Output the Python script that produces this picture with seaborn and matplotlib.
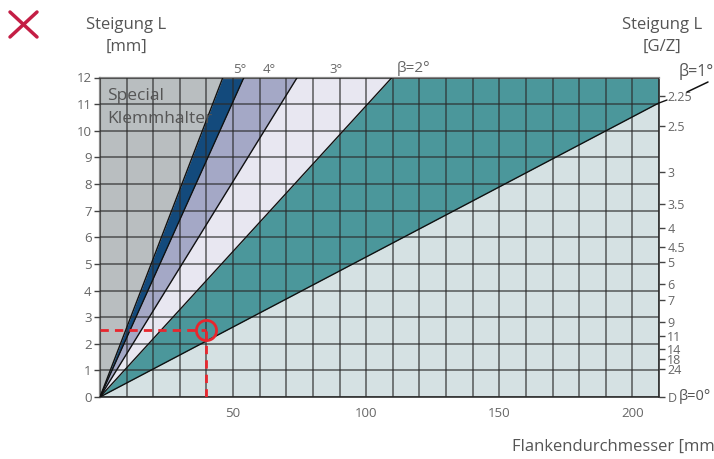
import numpy as np
import pandas as pd
import matplotlib
matplotlib.use('Agg')
import matplotlib.pyplot as plt
from matplotlib.lines import Line2D
import seaborn as sns

# slopes L/d of the boundary lines, steepest first
slopes = [0.26, 0.222, 0.162, 0.1094, 0.0526]
band_colors = ['#134a7c', '#a4a8c6', '#e8e7f1', '#4b979b']
gray_color = '#b9bec0'
below_color = '#d5e1e3'

angle_labels = ['5°', '4°', '3°', 'β=2°']
angle_label_x = [52.5, 63.7, 88.7, 111.5]

# right axis: threads per inch
tpi = [2.25, 2.5, 3, 3.5, 4, 4.5, 5, 6, 7, 9, 11, 14, 18, 24]
tpi_labels = ['2.25', '2.5', '3', '3.5', '4', '4.5', '5', '6', '7', '9', '11', '14', '18', '24']

# example reading
ex_d = 40
ex_L = 2.5

sns.set_style('white')
plt.rcParams['font.family'] = ['Open Sans', 'DejaVu Sans']
txt = '#666666'

fig = plt.figure(figsize=(7.14, 4.59), dpi=100)
W, H = 714, 459
ax = fig.add_axes([100 / W, (H - 397) / H, 559 / W, 319.5 / H])

xmax = 210
d = np.linspace(0, xmax, 800)

# gray "special" region above steepest line
ax.fill_between(d, np.minimum(slopes[0] * d, 12), 12, color=gray_color, lw=0, zorder=0.5)
for s_hi, s_lo, c in zip(slopes[:-1], slopes[1:], band_colors):
    ax.fill_between(d, np.minimum(s_lo * d, 12), np.minimum(s_hi * d, 12), color=c, lw=0, zorder=0.5)
ax.fill_between(d, 0, np.minimum(slopes[-1] * d, 12), color=below_color, lw=0, zorder=0.5)

for s in slopes:
    df = pd.DataFrame({'d': d, 'L': s * d})
    sns.lineplot(data=df, x='d', y='L', ax=ax, color='#111111', lw=1.0, zorder=3)

ax.set_xlim(0, xmax)
ax.set_ylim(0, 12)
ax.set_xticks([50, 100, 150, 200])
ax.set_xticks(np.arange(0, xmax + 1, 10), minor=True)
ax.set_yticks(range(0, 13))
ax.grid(True, which='both', color='#2a2a2a', lw=1.1, alpha=0.75, zorder=2)
ax.set_axisbelow(False)
ax.tick_params(axis='x', which='major', length=5, width=1, color='#444', labelcolor=txt, labelsize=9.5, pad=2)
ax.tick_params(axis='x', which='minor', length=0)
ax.tick_params(axis='y', length=4, width=1, color='#444', labelcolor=txt, labelsize=9.5, pad=2)
ax.set_xlabel('')
ax.set_ylabel('')
for side in ['left', 'top']:
    ax.spines[side].set_color('#888888')
    ax.spines[side].set_linewidth(1.6)
for side in ['right', 'bottom']:
    ax.spines[side].set_color('#333333')
    ax.spines[side].set_linewidth(1.2)

# right axis in threads per inch
ax2 = ax.twinx()
ax2.set_ylim(0, 12)
ax2.set_yticks([0] + [25.4 / t for t in tpi])
ax2.set_yticklabels(['D'] + tpi_labels)
ax2.tick_params(axis='y', length=4, width=1, color='#444', labelcolor=txt, labelsize=9, pad=2)
for sp in ax2.spines.values():
    sp.set_visible(False)
ax2.grid(False)

# red example reading
ax.plot([0, ex_d], [ex_L, ex_L], color='#e8262e', lw=2, ls=(0, (3, 2.2)), zorder=5)
ax.plot([ex_d, ex_d], [0, ex_L], color='#e8262e', lw=2, ls=(0, (3, 2.2)), zorder=5)
ax.plot([ex_d], [ex_L], marker='o', ms=14.5, mfc='none', mec='#e8262e', mew=2, zorder=6)

# angle labels above the plot
for lab, x in zip(angle_labels, angle_label_x):
    ax.text(x, 12.05, lab, ha='left' if lab.startswith('β') else 'center', va='bottom',
            color=txt, fontsize=11 if lab.startswith('β') else 9.5, clip_on=False)

ax.text(2.6, 11.3, 'Special', color='#555', fontsize=12.5, va='center', ha='left')
ax.text(2.6, 10.45, 'Klemmhalter', color='#555', fontsize=12.5, va='center', ha='left')

# figure-level texts
fig.text(126 / W, 1 - 25 / H, 'Steigung L', ha='center', va='center', color='#555', fontsize=12)
fig.text(126 / W, 1 - 47 / H, '[mm]', ha='center', va='center', color='#555', fontsize=12)
fig.text(662 / W, 1 - 25 / H, 'Steigung L', ha='center', va='center', color='#555', fontsize=12)
fig.text(662 / W, 1 - 47 / H, '[G/Z]', ha='center', va='center', color='#555', fontsize=12)
fig.text(679 / W, 1 - 72 / H, 'β=1°', ha='left', va='center', color='#555', fontsize=11.5)
fig.text(679 / W, 1 - 397 / H, 'β=0°', ha='left', va='center', color='#555', fontsize=10.5)
fig.text(512 / W, 1 - 447 / H, 'Flankendurchmesser [mm]', ha='left', va='center', color='#555', fontsize=12)

# leader line for beta=1 and the close icon
fig.add_artist(Line2D([687 / W, 708 / W], [1 - 92 / H, 1 - 82 / H], color='#111', lw=1.1))
fig.add_artist(Line2D([659 / W, 667 / W], [1 - 103 / H, 1 - 100 / H], color='#111', lw=1.0))
fig.add_artist(Line2D([10 / W, 37 / W], [1 - 12 / H, 1 - 37 / H], color='#c41e45', lw=2.5))
fig.add_artist(Line2D([37 / W, 10 / W], [1 - 12 / H, 1 - 37 / H], color='#c41e45', lw=2.5))

fig.savefig('out.png', dpi=100)
